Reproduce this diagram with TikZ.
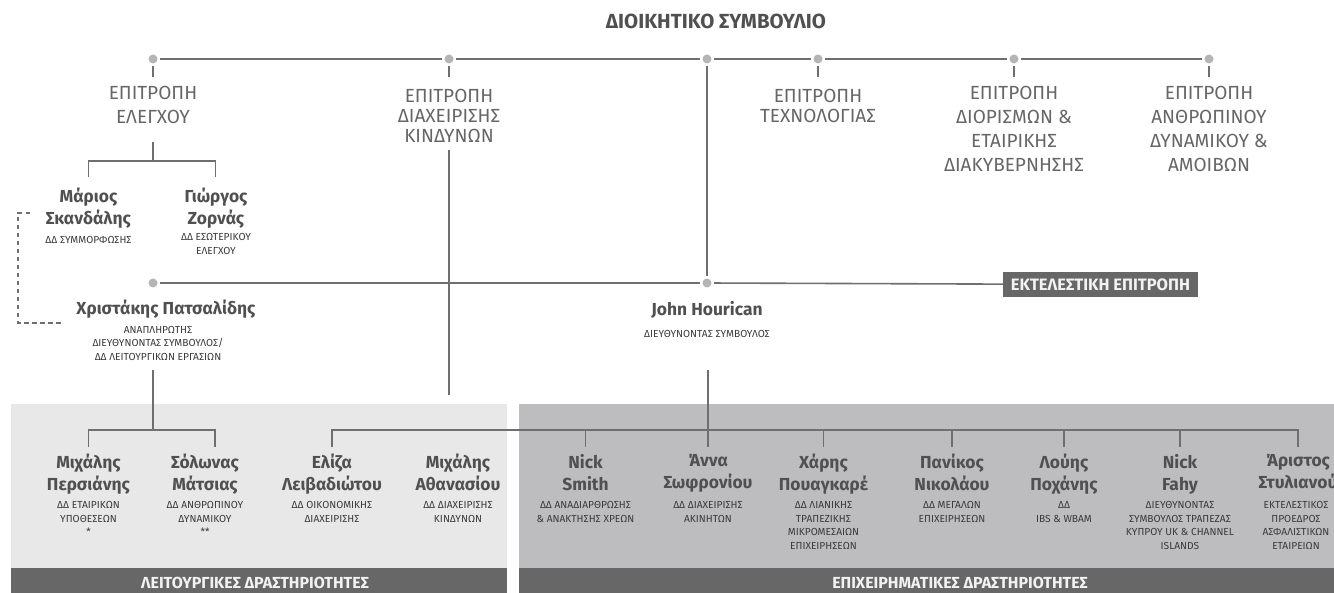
\documentclass[tikz,border=0pt]{standalone}
\usepackage{fontspec}
\setmainfont{Fira Sans}
\definecolor{lc}{HTML}{6F6F6F}
\definecolor{dc}{HTML}{B5B5B5}
\definecolor{ct}{HTML}{666666}
\definecolor{nt}{HTML}{505050}
\definecolor{rt}{HTML}{3A3A3A}
\definecolor{lp}{HTML}{E8E8E8}
\definecolor{rp}{HTML}{BDBDC0}
\definecolor{bc}{HTML}{676767}
\definecolor{bt}{HTML}{F2F2F2}
\tikzset{
  ln/.style={draw=lc, line width=1.6pt},
  dsh/.style={draw=lc, line width=2pt, dash pattern=on 4.5pt off 3.5pt},
  dot/.style={circle, fill=dc, inner sep=0pt, minimum size=9pt, outer sep=2.7pt},
  comm/.style={font=\fontsize{19}{24}\selectfont, text=ct, align=center, anchor=north, inner sep=0pt, execute at begin node=\strut},
  commb/.style={comm, font=\fontsize{19}{20}\selectfont},
  nm/.style={font=\bfseries\fontsize{17.4}{22}\selectfont, text=nt, align=center, anchor=north, inner sep=0pt, execute at begin node=\strut},
  role/.style={font=\fontsize{10.2}{13.4}\selectfont, text=rt, align=center, anchor=north, inner sep=0pt, execute at begin node=\strut},
  titlebox/.style={font=\bfseries\fontsize{20.4}{22}\selectfont, text=nt, anchor=base, inner sep=0pt},
  bartxt/.style={font=\bfseries\fontsize{16}{18}\selectfont, text=bt, anchor=base, inner sep=0pt},
  execbox/.style={fill=bc, text=bt, font=\bfseries\fontsize{16.5}{18}\selectfont, minimum width=195pt, minimum height=25pt, inner sep=0pt}
}
\begin{document}
\begin{tikzpicture}[x=1pt,y=-1pt]
\useasboundingbox (0,0) rectangle (1334,593);
\clip (0,0) rectangle (1334,593);
\fill[white] (0,0) rectangle (1334,593);
% panels
\fill[lp] (11,404) rectangle (507,593);
\fill[rp] (519,404) rectangle (1334,593);
\fill[bc] (11,568) rectangle (507,593);
\fill[bc] (519,568) rectangle (1334,593);
\node[bartxt] (ops) at (255,588) {ΛΕΙΤΟΥΡΓΙΚΕΣ ΔΡΑΣΤΗΡΙΟΤΗΤΕΣ};
\node[bartxt] (bus) at (960,588) {ΕΠΙΧΕΙΡΗΜΑΤΙΚΕΣ ΔΡΑΣΤΗΡΙΟΤΗΤΕΣ};
% title
\node[titlebox] (board) at (716,28.3) {ΔΙΟΙΚΗΤΙΚΟ ΣΥΜΒΟΥΛΙΟ};
% dots
\node[dot] (d1) at (153,59) {};
\node[dot] (d2) at (449,59) {};
\node[dot] (d3) at (707,59) {};
\node[dot] (d4) at (818,59) {};
\node[dot] (d5) at (1014,59) {};
\node[dot] (d6) at (1209,59) {};
\node[dot] (e1) at (153,283) {};
\node[dot] (e2) at (707,283) {};
\coordinate (tk) at (0,77);
% committees
\node[comm] (c1) at (153,86.2) {ΕΠΙΤΡΟΠΗ\\ΕΛΕΓΧΟΥ};
\node[commb] (c2) at (449,89) {ΕΠΙΤΡΟΠΗ\\ΔΙΑΧΕΙΡΙΣΗΣ\\ΚΙΝΔΥΝΩΝ};
\node[commb] (c3) at (818,89) {ΕΠΙΤΡΟΠΗ\\ΤΕΧΝΟΛΟΓΙΑΣ};
\node[comm] (c4) at (1014,86.2) {ΕΠΙΤΡΟΠΗ\\ΔΙΟΡΙΣΜΩΝ \&\\ΕΤΑΙΡΙΚΗΣ\\ΔΙΑΚΥΒΕΡΝΗΣΗΣ};
\node[comm] (c5) at (1209,86.2) {ΕΠΙΤΡΟΠΗ\\ΑΝΘΡΩΠΙΝΟΥ\\ΔΥΝΑΜΙΚΟΥ \&\\ΑΜΟΙΒΩΝ};
% executive committee
\node[execbox] (exec) at (1100.5,284.5) {ΕΚΤΕΛΕΣΤΙΚΗ ΕΠΙΤΡΟΠΗ};
% people (upper)
\node[nm] (mar) at (88.5,187.3) {Μάριος\\Σκανδάλης};
\node[role] (rmar) at (88.5,233.6) {ΔΔ ΣΥΜΜΟΡΦΩΣΗΣ};
\node[nm] (gio) at (216,187.3) {Γιώργος\\Ζορνάς};
\node[role] (rgio) at (216,233.6) {ΔΔ ΕΣΩΤΕΡΙΚΟΥ\\ΕΛΕΓΧΟΥ};
\node[nm] (chr) at (166,299) {Χριστάκης Πατσαλίδης};
\node[role] (rchr) at (158,326) {ΑΝΑΠΛΗΡΩΤΗΣ\\ΔΙΕΥΘΥΝΟΝΤΑΣ ΣΥΜΒΟΥΛΟΣ/\\ΔΔ ΛΕΙΤΟΥΡΓΙΚΩΝ ΕΡΓΑΣΙΩΝ};
\node[nm] (joh) at (707,300) {John Hourican};
\node[role] (rjoh) at (707,327.6) {ΔΙΕΥΘΥΝΟΝΤΑΣ ΣΥΜΒΟΥΛΟΣ};
% people (lower)
\node[nm] (per) at (88.5,453.9) {Μιχάλης\\Περσιάνης};
\node[role] (rper) at (88.5,501.6) {ΔΔ ΕΤΑΙΡΙΚΩΝ\\ΥΠΟΘΕΣΕΩΝ\\*};
\node[nm] (sol) at (205,453.9) {Σόλωνας\\Μάτσιας};
\node[role] (rsol) at (205,501.6) {ΔΔ ΑΝΘΡΩΠΙΝΟΥ\\ΔΥΝΑΜΙΚΟΥ\\**};
\node[nm] (eli) at (332,453.9) {Ελίζα\\Λειβαδιώτου};
\node[role] (reli) at (332,501.6) {ΔΔ ΟΙΚΟΝΟΜΙΚΗΣ\\ΔΙΑΧΕΙΡΙΣΗΣ};
\node[nm] (ath) at (458,453.9) {Μιχάλης\\Αθανασίου};
\node[role] (rath) at (458,501.6) {ΔΔ ΔΙΑΧΕΙΡΙΣΗΣ\\ΚΙΝΔΥΝΩΝ};
\node[nm] (smi) at (585.5,453.9) {Nick\\Smith};
\node[role] (rsmi) at (585.5,501.6) {ΔΔ ΑΝΑΔΙΑΡΘΡΩΣΗΣ\\\& ΑΝΑΚΤΗΣΗΣ ΧΡΕΩΝ};
\node[nm] (ann) at (708,453.9) {Άννα\\Σωφρονίου};
\node[role] (rann) at (708,501.6) {ΔΔ ΔΙΑΧΕΙΡΙΣΗΣ\\ΑΚΙΝΗΤΩΝ};
\node[nm] (cha) at (823.5,453.9) {Χάρης\\Πουαγκαρέ};
\node[role] (rcha) at (823.5,501.6) {ΔΔ ΛΙΑΝΙΚΗΣ\\ΤΡΑΠΕΖΙΚΗΣ\\ΜΙΚΡΟΜΕΣΑΙΩΝ\\ΕΠΙΧΕΙΡΗΣΕΩΝ};
\node[nm] (pan) at (952,453.9) {Πανίκος\\Νικολάου};
\node[role] (rpan) at (952,501.6) {ΔΔ ΜΕΓΑΛΩΝ\\ΕΠΙΧΕΙΡΗΣΕΩΝ};
\node[nm] (lou) at (1064,453.9) {Λούης\\Ποχάνης};
\node[role] (rlou) at (1064,501.6) {ΔΔ\\IBS \& WBAM};
\node[nm] (fah) at (1180,453.9) {Nick\\Fahy};
\node[role] (rfah) at (1180,501.6) {ΔΙΕΥΘΥΝΟΝΤΑΣ\\ΣΥΜΒΟΥΛΟΣ ΤΡΑΠΕΖΑΣ\\ΚΥΠΡΟΥ UK \& CHANNEL\\ISLANDS};
\node[nm] (ari) at (1298,453.9) {Άριστος\\Στυλιανού};
\node[role] (rari) at (1296,501.6) {ΕΚΤΕΛΕΣΤΙΚΟΣ\\ΠΡΟΕΔΡΟΣ\\ΑΣΦΑΛΙΣΤΙΚΩΝ\\ΕΤΑΙΡΕΙΩΝ};
% junctions and free ends
\coordinate (c1b) at (153,142);
\coordinate (j1) at (153,161);
\coordinate (tmar) at (88.5,177);
\coordinate (tgio) at (215.5,177);
\coordinate (c2b) at (449,150);
\coordinate (c2e) at (449,395);
\coordinate (chb) at (153,370);
\coordinate (j2) at (153,430);
\coordinate (tper) at (88.5,447);
\coordinate (tsol) at (215,447);
\coordinate (jhb) at (708,370);
\coordinate (j3) at (708,430);
\coordinate (tl) at (0,447);
\coordinate (dsA) at (30,213);
\coordinate (dsB) at (62,323);
% board line
\draw[ln] (d1) -- (d2);
\draw[ln] (d2) -- (d3);
\draw[ln] (d3) -- (d4);
\draw[ln] (d4) -- (d5);
\draw[ln] (d5) -- (d6);
\foreach \d in {d1,d2,d4,d5,d6} \draw[ln] (\d) -- (\d |- tk);
% executive line
\draw[ln] (d3) -- (e2);
\draw[ln] (e1) -- (e2);
\draw[ln] (e2) -- (exec);
% audit committee
\draw[ln] (c1b) -- (j1);
\draw[ln] (tmar) |- (j1) -| (tgio);
% risk committee
\draw[ln] (c2b) -- (c2e);
% deputy CEO
\draw[ln] (chb) -- (j2);
\draw[ln] (tper) |- (j2) -| (tsol);
% CEO
\draw[ln] (jhb) -- (ann.north |- tl);
\draw[ln] (eli.north |- tl) |- (j3) -| (ari.north |- tl);
\foreach \p in {smi,cha,pan,lou,fah} \draw[ln] (\p.north |- j3) -- (\p.north |- tl);
% dashed reporting line
\draw[dsh] (dsA) -- ++(-12,0) |- (dsB);
\end{tikzpicture}
\end{document}
